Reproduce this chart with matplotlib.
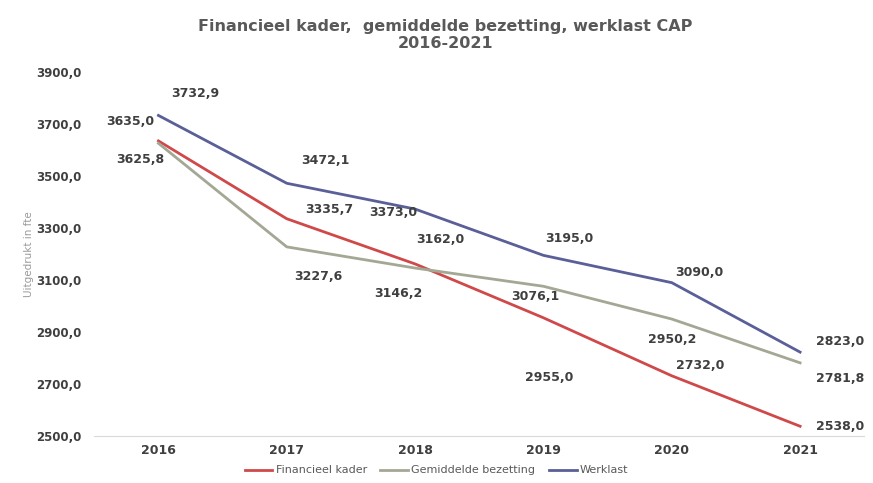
import matplotlib
matplotlib.use("Agg")
import matplotlib.pyplot as plt

years = ["2016", "2017", "2018", "2019", "2020", "2021"]
financieel = [3635.0, 3335.7, 3162.0, 2955.0, 2732.0, 2538.0]
bezetting = [3625.8, 3227.6, 3146.2, 3076.1, 2950.2, 2781.8]
werklast = [3732.9, 3472.1, 3373.0, 3195.0, 3090.0, 2823.0]
yticks = [2500, 2700, 2900, 3100, 3300, 3500, 3700, 3900]

# label offsets in pixels (dx, dy upward)
off_fin = [(-28, 19), (42, 9), (25, 24), (6, -60), (28, 10), (40, 0)]
off_bez = [(-18, -16), (32, -30), (-17, -25), (-8, -10), (0, -20), (40, -16)]
off_wer = [(37, 22), (39, 23), (-22, -3), (26, 17), (28, 10), (40, 11)]

c_fin = "#d0494a"
c_bez = "#a3a895"
c_wer = "#5a5f98"
txt = "#3f3f3f"

fig = plt.figure(figsize=(8.73, 4.83), dpi=100)
ax = fig.add_axes([0.108, 0.097, 0.882, 0.754])
x = list(range(len(years)))
ax.plot(x, financieel, color=c_fin, lw=2, label="Financieel kader")
ax.plot(x, bezetting, color=c_bez, lw=2, label="Gemiddelde bezetting")
ax.plot(x, werklast, color=c_wer, lw=2, label="Werklast")

def fmt(v):
    return f"{v:.1f}".replace(".", ",")

for vals, offs in [(financieel, off_fin), (bezetting, off_bez), (werklast, off_wer)]:
    for xi, v, (dx, dy) in zip(x, vals, offs):
        ax.annotate(fmt(v), (xi, v), xytext=(dx, dy), textcoords="offset pixels",
                    ha="center", va="center", fontsize=9, fontweight="bold", color=txt)

ax.set_xlim(-0.5, 5.5)
ax.set_ylim(2500, 3900)
ax.set_xticks(x)
ax.set_xticklabels(years, fontsize=9, fontweight="bold", color=txt)
ax.set_yticks(yticks)
ax.set_yticklabels([fmt(v) for v in yticks], fontsize=8.5, fontweight="bold", color=txt)
ax.tick_params(axis="x", length=0, pad=6)
ax.tick_params(axis="y", length=0, pad=9)
for s in ["top", "right", "left"]:
    ax.spines[s].set_visible(False)
ax.spines["bottom"].set_color("#d9d9d9")
ax.set_ylabel("Uitgedrukt in fte", fontsize=7.5, color="#9a9a9a", labelpad=2)

fig.suptitle("Financieel kader,  gemiddelde bezetting, werklast CAP\n2016-2021",
             x=0.51, y=0.96, fontsize=11.5, fontweight="bold", color="#595959", linespacing=1.1)

leg = fig.legend(loc="lower center", bbox_to_anchor=(0.5, -0.005), ncol=3, frameon=False,
                 fontsize=8, handlelength=2.5, columnspacing=1.2, handletextpad=0.3)
for t in leg.get_texts():
    t.set_color("#595959")

fig.savefig("out.png", dpi=100)
